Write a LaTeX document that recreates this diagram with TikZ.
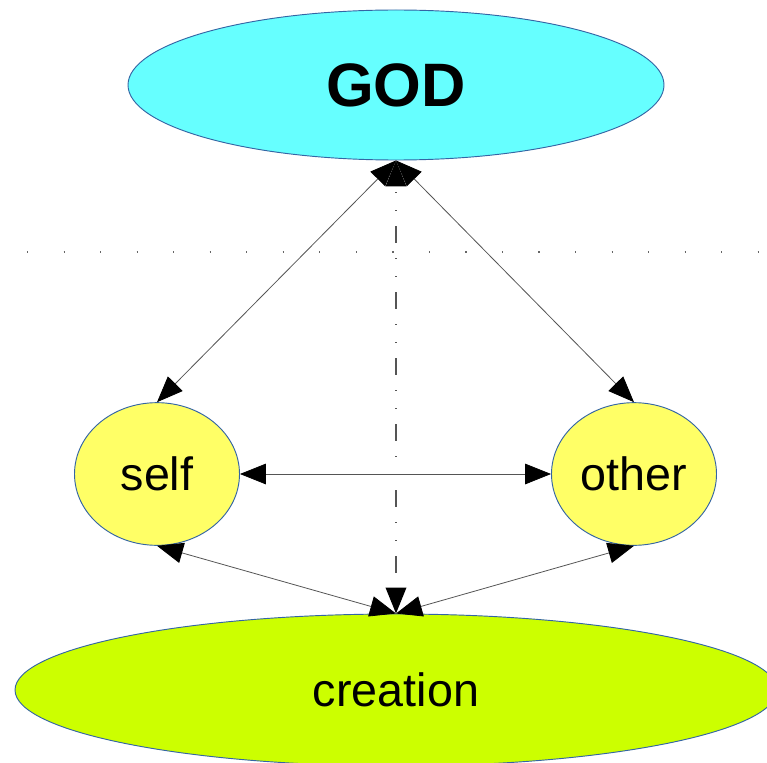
\documentclass[tikz,border=0pt]{standalone}
\usepackage{fontspec}
\setmainfont{Liberation Sans}
\usetikzlibrary{arrows.meta,shapes.geometric}
\definecolor{god-fill}{HTML}{66FFFF}
\definecolor{soul-fill}{HTML}{FFFF66}
\definecolor{world-fill}{HTML}{CCFF00}
\definecolor{rim}{HTML}{3465A4}
\definecolor{wire}{HTML}{555555}
\tikzset{
  orb/.style={ellipse,draw=rim,line width=0.7pt,inner sep=0pt,text=black},
  soul/.style={orb,fill=soul-fill,minimum width=123.75pt,minimum height=107pt,font=\fontsize{35}{40}\selectfont},
  link/.style={wire,line width=0.6pt,
    {Triangle[length=19.5pt,width=15.5pt,color=black]}-{Triangle[length=19.5pt,width=15.5pt,color=black]}},
}

\begin{document}
\begin{tikzpicture}[x=0.75pt,y=-0.75pt]
  \useasboundingbox (0,0) rectangle (767,763);
  % horizon
  \draw[gray!80!black,line width=1.5pt,dash pattern=on 0.9pt off 26.5pt] (27,252)--(767,252);
  \node[orb,fill=god-fill,minimum width=402pt,minimum height=112.5pt,font=\fontsize{46}{50}\selectfont\bfseries] (god) at (396,85){GOD};
  \node[soul] (self) at (157,474){self};
  \node[soul] (other) at (634,474){other};
  \node[orb,fill=world-fill,minimum width=571.5pt,minimum height=114pt,font=\fontsize{35}{40}\selectfont] (creation) at (396,690){creation};
  \draw[link] (god.south)--(self.north);
  \draw[link] (god.south)--(other.north);
  \draw[link] (self.east)--(other.west);
  \draw[link] (self.south)--(creation.north);
  \draw[link] (other.south)--(creation.north);
  \draw[link,line width=1.1pt,dash pattern=on 12.75pt off 11.25pt on 0.9pt off 12.6pt on 0.9pt off 11.1pt,dash phase=19.5pt] (god.south)--(creation.north);
\end{tikzpicture}
\end{document}
